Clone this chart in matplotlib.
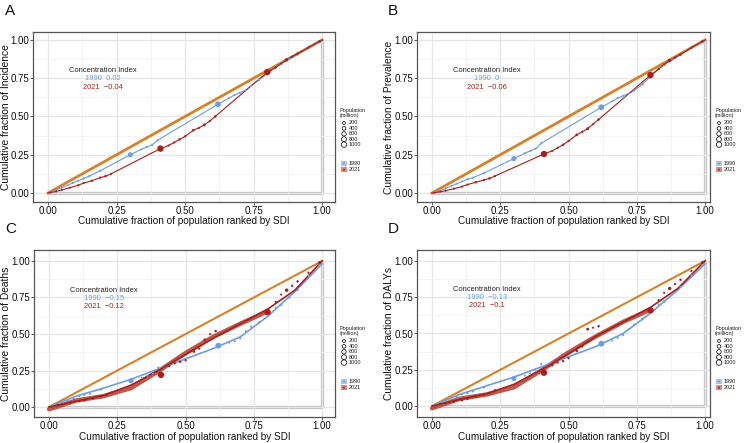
import numpy as np
import matplotlib.pyplot as plt

plt.rcParams["font.family"] = ["Liberation Sans", "DejaVu Sans"]

W, H = 750, 443

# ── data ──────────────────────────────────────────────────────────────────────
# cumulative population fraction (ranked by SDI) and population (million)
x_1990 = [0.01, 0.03, 0.05, 0.07, 0.09, 0.11, 0.13, 0.15, 0.19, 0.30, 0.34, 0.36, 0.38, 0.40,
          0.62, 0.66, 0.68, 0.70, 0.72, 0.74, 0.77, 0.80, 0.83, 0.85, 0.88, 0.91, 0.95, 0.99]
pop_1990 = [20, 30, 40, 25, 50, 35, 60, 45, 100, 870, 40, 60, 50, 80,
            1150, 30, 50, 60, 40, 80, 120, 250, 60, 120, 80, 60, 90, 130]
x_2021 = [0.01, 0.03, 0.05, 0.08, 0.11, 0.13, 0.16, 0.19, 0.21, 0.23, 0.41, 0.44, 0.46, 0.48,
          0.50, 0.53, 0.55, 0.57, 0.59, 0.61, 0.80, 0.83, 0.85, 0.87, 0.89, 0.91, 0.95, 0.99]
pop_2021 = [30, 40, 50, 60, 80, 60, 100, 90, 120, 70, 1410, 60, 80, 110,
            90, 150, 70, 200, 60, 120, 1420, 80, 60, 330, 90, 120, 70, 130]

inc_1990 = [0.005, 0.02, 0.035, 0.05, 0.065, 0.08, 0.095, 0.11, 0.145, 0.25, 0.285, 0.30, 0.315, 0.345,
            0.58, 0.62, 0.64, 0.655, 0.67, 0.70, 0.74, 0.78, 0.82, 0.845, 0.875, 0.905, 0.95, 0.99]
inc_2021 = [0.003, 0.01, 0.02, 0.035, 0.05, 0.065, 0.08, 0.10, 0.11, 0.125, 0.29, 0.31, 0.33, 0.35,
            0.37, 0.41, 0.425, 0.445, 0.47, 0.50, 0.79, 0.82, 0.845, 0.87, 0.89, 0.91, 0.95, 0.99]

prev_1990 = [0.004, 0.015, 0.03, 0.045, 0.06, 0.075, 0.09, 0.10, 0.13, 0.225, 0.26, 0.275, 0.29, 0.325,
             0.56, 0.60, 0.62, 0.635, 0.65, 0.67, 0.71, 0.76, 0.81, 0.84, 0.87, 0.905, 0.95, 0.99]
prev_2021 = [0.002, 0.008, 0.015, 0.028, 0.042, 0.055, 0.07, 0.085, 0.095, 0.11, 0.255, 0.275, 0.295, 0.315,
             0.34, 0.38, 0.40, 0.42, 0.45, 0.48, 0.77, 0.81, 0.84, 0.865, 0.885, 0.905, 0.95, 0.99]

deaths_1990 = [0.01, 0.02, 0.03, 0.045, 0.06, 0.075, 0.085, 0.09, 0.12, 0.18, 0.20, 0.215, 0.23, 0.27,
               0.42, 0.44, 0.45, 0.47, 0.52, 0.55, 0.58, 0.64, 0.68, 0.70, 0.75, 0.80, 0.90, 0.97]
deaths_2021 = [0.005, 0.015, 0.02, 0.03, 0.04, 0.045, 0.06, 0.075, 0.085, 0.10, 0.22, 0.28, 0.30, 0.31,
               0.32, 0.38, 0.40, 0.46, 0.50, 0.52, 0.65, 0.72, 0.77, 0.80, 0.83, 0.86, 0.92, 0.99]

dalys_1990 = [0.01, 0.02, 0.035, 0.05, 0.065, 0.08, 0.09, 0.10, 0.13, 0.19, 0.21, 0.225, 0.24, 0.29,
              0.43, 0.45, 0.47, 0.49, 0.53, 0.56, 0.60, 0.66, 0.70, 0.72, 0.77, 0.82, 0.90, 0.97]
dalys_2021 = [0.005, 0.015, 0.02, 0.03, 0.04, 0.05, 0.065, 0.08, 0.09, 0.11, 0.23, 0.28, 0.30, 0.31,
              0.33, 0.38, 0.41, 0.53, 0.54, 0.55, 0.66, 0.73, 0.78, 0.81, 0.84, 0.87, 0.93, 0.99]

# smoothed curves (panels C, D)
fit_x = [0, 0.1, 0.2, 0.3, 0.4, 0.5, 0.6, 0.7, 0.8, 0.9, 1.0]
deaths_fit_1990 = [0, 0.075, 0.13, 0.19, 0.26, 0.33, 0.40, 0.48, 0.62, 0.79, 0.98]
deaths_fit_2021 = [0, 0.04, 0.08, 0.15, 0.25, 0.36, 0.47, 0.57, 0.67, 0.80, 1.0]
dalys_fit_1990 = [0, 0.08, 0.14, 0.20, 0.27, 0.34, 0.41, 0.50, 0.64, 0.80, 0.98]
dalys_fit_2021 = [0, 0.045, 0.085, 0.15, 0.25, 0.36, 0.48, 0.58, 0.68, 0.81, 1.0]
band_x = [0, 0.1, 0.2, 0.3, 0.4, 0.5, 0.6, 0.7, 0.8]
deaths_band_2021 = [-0.015, 0.045, 0.075, 0.13, 0.245, 0.37, 0.48, 0.57, 0.655]
dalys_band_2021 = [-0.015, 0.05, 0.08, 0.13, 0.245, 0.37, 0.48, 0.58, 0.665]

measures = ["Incidence", "Prevalence", "Deaths", "DALYs"]
ci_1990 = ["0.02", "0", "\u22120.15", "\u22120.13"]
ci_2021 = ["\u22120.04", "\u22120.06", "\u22120.12", "\u22120.1"]
legend_sizes = [200, 400, 600, 800, 1000]

BLUE = "#6d9de3"
RED = "#a8201a"
BAND = "#b6483a"
ORANGE = "#d4832a"
GREY = "#c4c4c4"


def size(p):
    return 1.5 + np.asarray(p) * 0.014


def fax(l, t, r, b):
    # pixel box -> figure fraction
    return [l / W, 1 - b / H, (r - l) / W, (b - t) / H]


fig = plt.figure(figsize=(W / 100, H / 100), dpi=100)
fig.patch.set_facecolor("white")

panels = [
    # label, box (l, t, r, b), xlim, ylim, y1990, y2021, fits, ylabel x px, xlabel y px
    ("A", (33, 32, 335, 202), (-0.055, 1.047), (-0.059, 1.052), inc_1990, inc_2021, None, 6, 221),
    ("B", (417, 32, 710, 202), (-0.055, 1.018), (-0.059, 1.052), prev_1990, prev_2021, None, 389, 221),
    ("C", (34, 250, 335, 417), (-0.055, 1.047), (-0.068, 1.075), deaths_1990, deaths_2021,
     (deaths_fit_1990, deaths_fit_2021, deaths_band_2021), 6, 436.5),
    ("D", (417, 250, 710, 417), (-0.055, 1.018), (-0.075, 1.075), dalys_1990, dalys_2021,
     (dalys_fit_1990, dalys_fit_2021, dalys_band_2021), 389, 436.5),
]

for i, (lab, box, xl, yl, y90, y21, fits, ylx, xly) in enumerate(panels):
    l, t, r, b = box
    ax = fig.add_axes(fax(l, t, r, b))
    ax.set_xlim(*xl); ax.set_ylim(*yl)
    ticks = [0, 0.25, 0.5, 0.75, 1.0]
    ax.set_xticks(ticks); ax.set_yticks(ticks)
    ax.set_xticks(np.arange(0.125, 1.0, 0.25), minor=True)
    ax.set_yticks(np.arange(0.125, 1.0, 0.25), minor=True)
    ax.set_xticklabels([f"{v:.2f}" for v in ticks])
    ax.set_yticklabels([f"{v:.2f}" for v in ticks])
    ax.grid(which="major", color="#e6e6e6", lw=0.9, zorder=0)
    ax.grid(which="minor", color="#f0f0f0", lw=0.5, zorder=0)
    ax.tick_params(which="major", length=2, width=0.6, color="#444", labelsize=7,
                   pad=0.6, labelcolor="#111")
    ax.tick_params(which="minor", length=0)
    for s in ax.spines.values():
        s.set_color("#555"); s.set_linewidth(0.9)

    # line of perfect inequality and line of equality
    ax.plot([0, 1, 1], [0, 0, 1], color=GREY, lw=2.4, solid_capstyle="butt", zorder=1)
    ax.plot([0, 1], [0, 1], color=ORANGE, lw=2.0 if fits is None else 1.5, zorder=2)

    if fits is None:
        ax.plot([0] + x_1990 + [1], [0] + y90 + [1], color=BLUE, lw=0.8, zorder=3)
        ax.plot([0] + x_2021 + [1], [0] + y21 + [1], color=RED, lw=0.8, zorder=3)
    else:
        f90, f21, band = fits
        ax.plot(band_x, band, color=BAND, lw=3.2, alpha=0.9, solid_capstyle="round", zorder=3)
        ax.plot(fit_x, f90, color=BLUE, lw=1.2, zorder=3)
        ax.plot(fit_x, f21, color=RED, lw=1.2, zorder=4)

    ax.scatter(x_1990, y90, s=size(pop_1990), color=BLUE, edgecolor="none", zorder=5)
    ax.scatter(x_2021, y21, s=size(pop_2021), color=RED, edgecolor="none", zorder=5)

    ax.set_xlabel("Cumulative fraction of population ranked by SDI", fontsize=7.2, color="#111",
                  va="center")
    ax.set_ylabel(f"Cumulative fraction of {measures[i]}", fontsize=7.4, color="#111",
                  va="center")
    ax.xaxis.set_label_coords(0.5, (b - xly) / (b - t))
    ax.yaxis.set_label_coords((ylx - l) / (r - l), 0.5)

    # concentration index annotation
    ax.text(0.2, 0.80, "Concentration Index", fontsize=5.4, ha="center", va="center", color="#222")
    ax.text(0.2, 0.745, f"1990  {ci_1990[i]}", fontsize=5.4, ha="center", va="center", color=BLUE)
    ax.text(0.2, 0.69, f"2021  {ci_2021[i]}", fontsize=5.4, ha="center", va="center", color=RED)

    # panel letter
    fig.text((5 if l < 100 else 388) / W, 1 - (t - 21) / H, lab, fontsize=11, ha="left",
             va="center", color="#111")

    # legend
    lx = r + 5
    ly = t + 81
    fig.text(lx / W, 1 - ly / H, "Population\n(million)", fontsize=4, va="center", ha="left",
             linespacing=1.0, color="#222")
    lg = fig.add_axes(fax(lx, ly + 5, lx + 40, ly + 60))
    lg.set_xlim(0, 1); lg.set_ylim(55, 0); lg.axis("off")
    ly_pos = np.arange(len(legend_sizes)) * 5.4 + 5
    lg.scatter(np.full(len(legend_sizes), 0.1), ly_pos, s=size(legend_sizes), facecolor="none",
               edgecolor="#222", lw=0.6)
    for yy, v in zip(ly_pos, legend_sizes):
        lg.text(0.22, yy, str(v), fontsize=4, va="center", color="#222")
    for k, (yr, fc, dc) in enumerate([("1990", "#a9c3ec", BLUE), ("2021", "#d98d80", RED)]):
        yy = 45.5 + k * 6.2
        lg.add_patch(plt.Rectangle((0.02, yy - 2.6), 0.16, 5.2, facecolor=fc, edgecolor="none"))
        lg.scatter([0.1], [yy], s=2, color=dc, edgecolor="none")
        lg.text(0.22, yy, yr, fontsize=4, va="center", color="#222")

fig.savefig("out.png", dpi=100)
